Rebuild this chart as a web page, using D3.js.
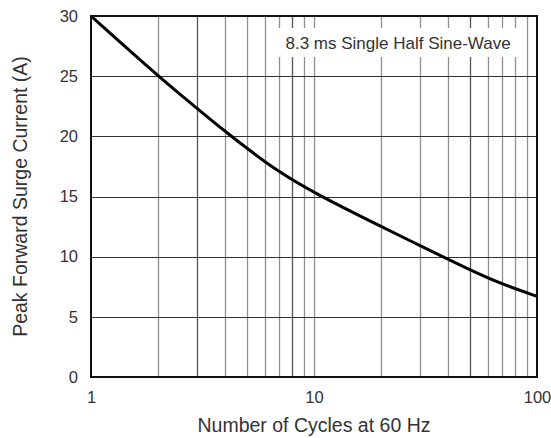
<!DOCTYPE html>
<html lang="en">
<head>
<meta charset="utf-8">
<title>Peak Forward Surge Current</title>
<style>
    body { margin: 0; background: #fff; font-family: "Liberation Sans", Arial, sans-serif; }
    .tick text { font-size: 16.5px; fill: #333; }
    .label { font-size: 19.5px; fill: #333; }
</style>
</head>
<body>
<div id="chart"></div>
<script src="https://d3js.org/d3.v7.min.js"></script>
<script>
    // values
    var cycles  = [1, 2, 3, 4, 5, 7, 10, 20, 30, 50, 70, 100];
    var current = [30, 25, 22.3, 20.4, 19.0, 17.0, 15.3, 12.5, 10.9, 8.9, 7.7, 6.7];
    var yTicks = [0, 5, 10, 15, 20, 25, 30];
    var xTicks = [1, 10, 100];
    var note = "8.3 ms Single Half Sine-Wave";

    var margin = { top: 16, right: 14, bottom: 61, left: 91 },
        width = 551 - margin.left - margin.right,
        height = 438 - margin.top - margin.bottom;

    var x = d3.scaleLog().domain([1, 100]).range([0, width]);
    var y = d3.scaleLinear().domain([0, 30]).range([height, 0]);

    var svg = d3.select("#chart").append("svg")
        .attr("width", 551)
        .attr("height", 438)
        .append("g")
        .attr("transform", "translate(" + margin.left + "," + margin.top + ")");

    // minor log gridlines
    var minor = [];
    [1, 10].forEach(function(d) {
        for (var k = 2; k <= 9; k++) minor.push(d * k);
    });
    minor.push(10);

    svg.selectAll(".vgrid")
        .data(minor)
        .enter().append("line")
        .attr("class", "vgrid")
        .attr("x1", function(d) { return Math.round(x(d)) + 0.5; })
        .attr("x2", function(d) { return Math.round(x(d)) + 0.5; })
        .attr("y1", 0)
        .attr("y2", height)
        .attr("stroke", function(d) { return (d === 3 || d === 50 || d === 8) ? "#555" : "#8f8f8f"; })
        .attr("stroke-width", 1.3);

    svg.selectAll(".hgrid")
        .data(yTicks.slice(1, -1))
        .enter().append("line")
        .attr("class", "hgrid")
        .attr("x1", 0)
        .attr("x2", width)
        .attr("y1", function(d) { return Math.round(y(d)) + 0.5; })
        .attr("y2", function(d) { return Math.round(y(d)) + 0.5; })
        .attr("stroke", "#333")
        .attr("stroke-width", 1.2);

    // annotation box covers the grid
    var noteX = x(6.6), noteW = x(86) - x(6.6);
    svg.append("rect")
        .attr("x", noteX)
        .attr("y", 12)
        .attr("width", noteW)
        .attr("height", 29)
        .attr("fill", "#fff");

    svg.append("text")
        .attr("x", noteX + noteW / 2)
        .attr("y", 33)
        .attr("text-anchor", "middle")
        .style("font-size", "17px")
        .style("fill", "#333")
        .text(note);

    // curve
    var line = d3.line()
        .x(function(d, i) { return x(cycles[i]); })
        .y(function(d) { return y(d); })
        .curve(d3.curveBasis);

    svg.append("path")
        .datum(current)
        .attr("d", line)
        .attr("fill", "none")
        .attr("stroke", "#000")
        .attr("stroke-width", 3);

    // frame
    svg.append("rect")
        .attr("x", 0)
        .attr("y", 0)
        .attr("width", width)
        .attr("height", height)
        .attr("fill", "none")
        .attr("stroke", "#111")
        .attr("stroke-width", 2);

    var yAxis = svg.append("g")
        .call(d3.axisLeft(y).tickValues(yTicks).tickSize(0).tickPadding(13));
    yAxis.select(".domain").remove();

    var xAxis = svg.append("g")
        .attr("transform", "translate(0," + height + ")")
        .call(d3.axisBottom(x).tickValues(xTicks).tickFormat(d3.format("d")).tickSize(0).tickPadding(14));
    xAxis.select(".domain").remove();

    svg.append("text")
        .attr("class", "label")
        .attr("x", width / 2)
        .attr("y", height + 55)
        .attr("text-anchor", "middle")
        .text("Number of Cycles at 60 Hz");

    svg.append("text")
        .attr("class", "label")
        .attr("transform", "translate(-64," + height / 2 + ") rotate(-90)")
        .attr("text-anchor", "middle")
        .text("Peak Forward Surge Current (A)");
</script>
</body>
</html>
